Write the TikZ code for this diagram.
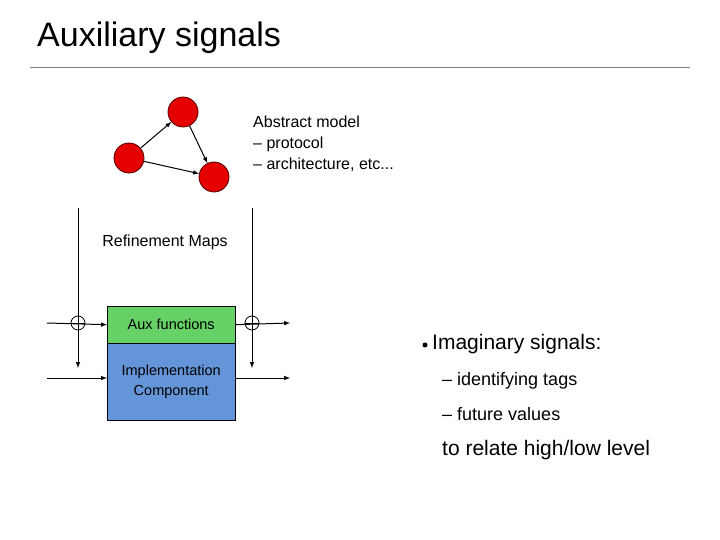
\documentclass[tikz,border=0pt]{standalone}
\usepackage{fontspec}
\setmainfont{Liberation Sans}
\begin{document}
\begin{tikzpicture}[x=1pt,y=-1pt,
  st/.style={circle,draw=black!70!red,fill=red!90!black,minimum size=30pt,inner sep=0pt,line width=0.8pt},
  arr/.style={-latex,line width=1pt},
  xo/.style={circle,draw,minimum size=14pt,inner sep=0pt,line width=0.8pt,path picture={\draw (path picture bounding box.north)--(path picture bounding box.south) (path picture bounding box.west)--(path picture bounding box.east);}},
  txt/.style={anchor=west,inner sep=0pt,font=\fontsize{16}{19}\selectfont}]
\useasboundingbox (0,0) rectangle (720,540);
\node[anchor=west,inner sep=0pt,font=\fontsize{34}{40}\selectfont] (title) at (37,38) {Auxiliary signals};
\draw[gray,line width=0.8pt] (30,67) -- (690,67);
\node[st] (t) at (183,112) {};
\node[st] (l) at (129,158) {};
\node[st] (r) at (214,177) {};
\draw[arr] (l) -- (t);
\draw[arr] (t) -- (r);
\draw[arr] (l) -- (r);
\node[txt] (am) at (253,122) {Abstract model};
\node[txt] (p) at (253,144) {-- protocol};
\node[txt] (a) at (253,165) {-- architecture, etc...};
\node[font=\fontsize{16}{19}\selectfont] (rm) at (165,242) {Refinement Maps};
\node[draw,fill=green!60!black!50!green,fill=green!70!black!60!white,minimum width=128pt,minimum height=37pt,inner sep=0pt,font=\fontsize{14.5}{17}\selectfont,anchor=north west] (aux) at (107,306) {Aux functions};
\node[draw,fill={rgb,255:red,100;green,149;blue,216},minimum width=128pt,minimum height=77pt,inner sep=0pt,align=center,font=\fontsize{14.5}{20}\selectfont,anchor=north west] (imp) at (107,343) {Implementation\\Component};
\node[xo] (x1) at (78,323) {};
\node[xo] (x2) at (252,323) {};
\coordinate (v1t) at (78,208); \coordinate (v1b) at (78,368);
\coordinate (v2t) at (252,208); \coordinate (v2b) at (252,368);
\draw[arr] (v1t) -- (v1b);
\draw[arr] (v2t) -- (v2b);
\coordinate (i1) at (47,323); \coordinate (o1) at (290,323);
\coordinate (i2) at (47,378); \coordinate (o2) at (290,378);
\draw[arr] (i1) -- (aux.west);
\draw[arr] (aux.east) -- (o1);
\draw[arr] (i2) -- (i2 -| imp.west);
\draw[arr] (o2 -| imp.east) -- (o2);
\fill (425,345) circle (2.5pt);
\node[txt,font=\fontsize{21}{25}\selectfont] (im) at (432,344) {Imaginary signals:};
\node[txt,font=\fontsize{18}{22}\selectfont] (id) at (442,381) {-- identifying tags};
\node[txt,font=\fontsize{18}{22}\selectfont] (fv) at (442,414) {-- future values};
\node[txt,font=\fontsize{21}{25}\selectfont] (rel) at (442,450) {to relate high/low level};
\end{tikzpicture}
\end{document}
